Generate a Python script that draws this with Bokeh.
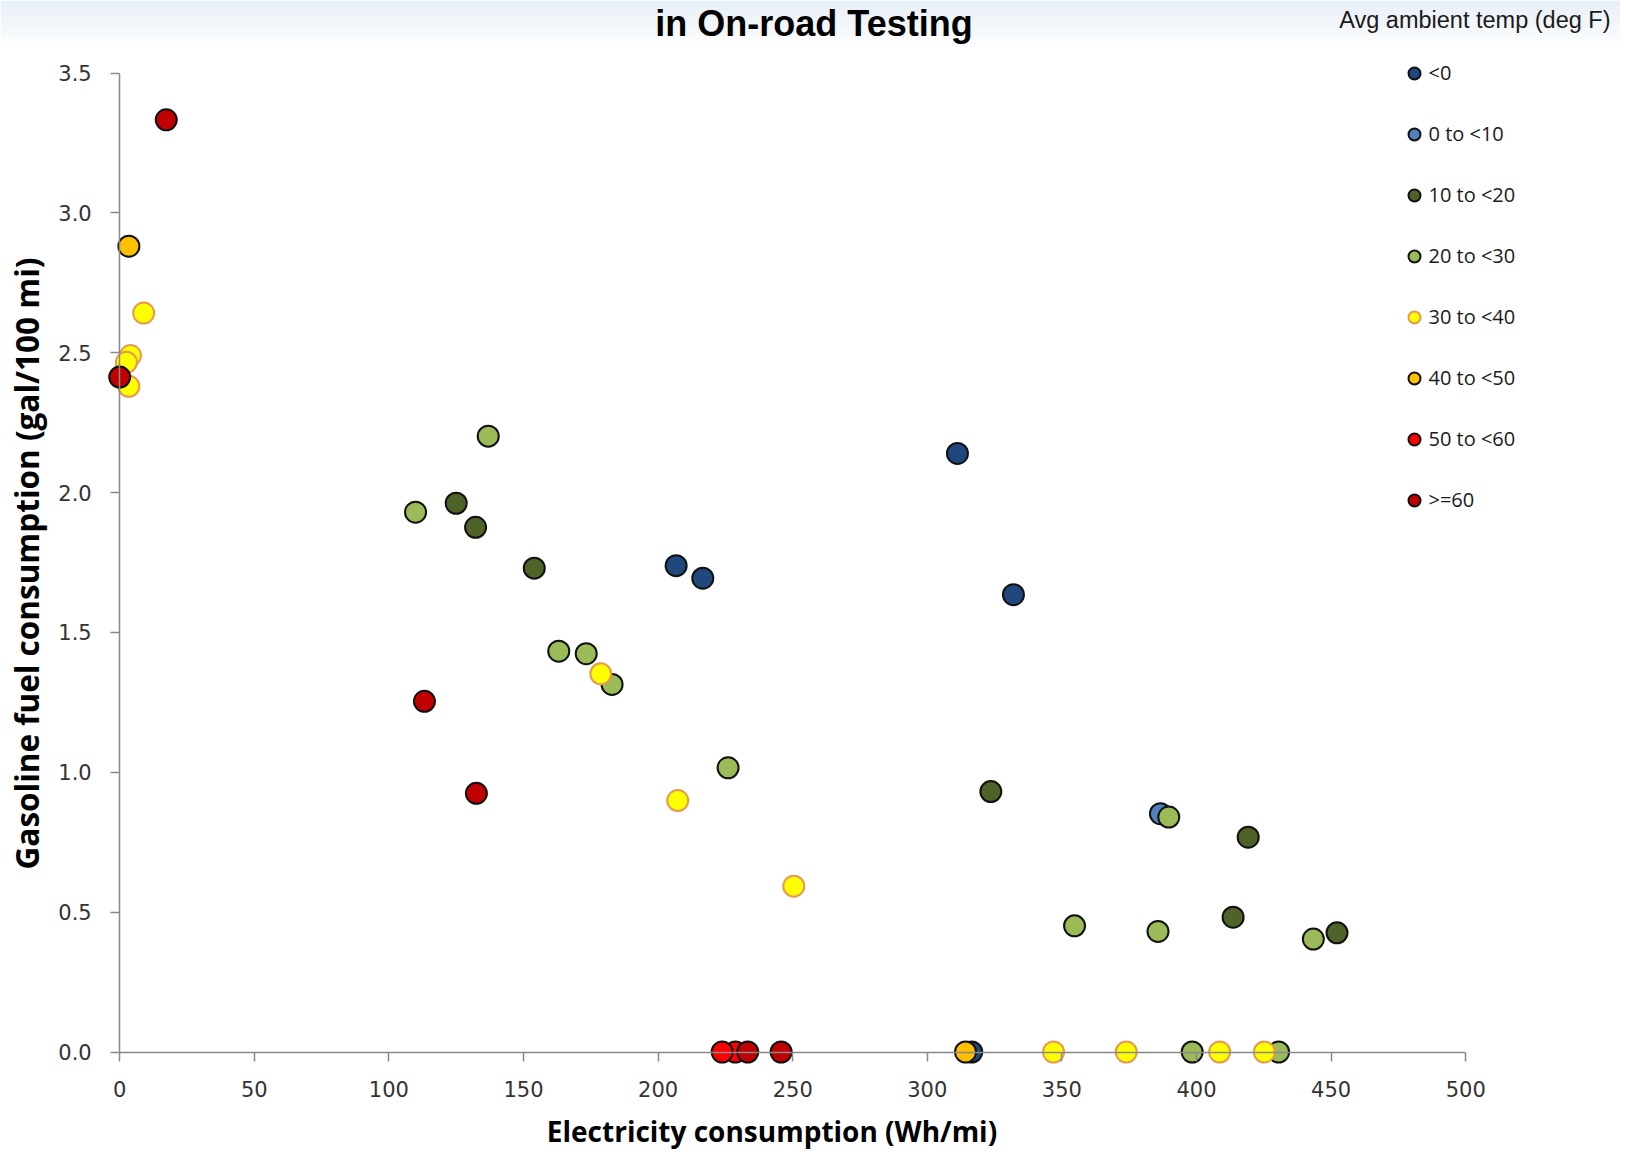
import numpy as np
from bokeh.plotting import figure
from bokeh.models import (Label, Legend, LegendItem, FixedTicker,
                          PrintfTickFormatter, BoxAnnotation)
from bokeh.embed import file_html
from bokeh.resources import INLINE

# ---------------- data ----------------
categories = ["<0", "0 to <10", "10 to <20", "20 to <30",
              "30 to <40", "40 to <50", "50 to <60", ">=60"]

x_lt0 = [311.2, 206.7, 216.6, 332.0, 316.5]
y_lt0 = [2.14, 1.739, 1.694, 1.635, 0.0]

x_0_10 = [386.6]
y_0_10 = [0.852]

x_10_20 = [125.0, 132.2, 154.0, 323.6, 419.2, 413.6, 452.2]
y_10_20 = [1.962, 1.876, 1.730, 0.931, 0.768, 0.482, 0.426]

x_20_30 = [109.9, 136.9, 163.1, 173.3, 182.9, 226.0, 389.7, 354.7, 385.7, 443.4, 398.4, 430.5]
y_20_30 = [1.930, 2.202, 1.433, 1.424, 1.314, 1.016, 0.840, 0.451, 0.431, 0.404, 0.0, 0.0]

x_30_40 = [8.9, 4.0, 2.5, 3.4, 178.7, 207.3, 250.4, 346.9, 373.9, 408.6, 425.2]
y_30_40 = [2.642, 2.490, 2.466, 2.380, 1.352, 0.899, 0.593, 0.0, 0.0, 0.0, 0.0]

x_40_50 = [3.4, 314.2]
y_40_50 = [2.881, 0.0]

x_50_60 = [228.7, 223.8]
y_50_60 = [0.0, 0.0]

x_ge60 = [17.3, 0.0, 113.2, 132.5, 233.3, 245.7]
y_ge60 = [3.333, 2.413, 1.254, 0.925, 0.0, 0.0]

series_x = [x_lt0, x_0_10, x_10_20, x_20_30, x_30_40, x_40_50, x_50_60, x_ge60]
series_y = [y_lt0, y_0_10, y_10_20, y_20_30, y_30_40, y_40_50, y_50_60, y_ge60]

fill_colors = ["#1F497D", "#4F81BD", "#4F6228", "#9BBB59",
               "#FFFF00", "#FFC000", "#FF0000", "#C00000"]
line_colors = ["#111111", "#111111", "#111111", "#111111",
               "#E59A4F", "#111111", "#111111", "#111111"]

x_ticks = list(range(0, 501, 50))
y_ticks = [0.0, 0.5, 1.0, 1.5, 2.0, 2.5, 3.0, 3.5]
X_MIN, X_MAX = 0, 500
Y_MIN, Y_MAX = 0.0, 3.5

# ---------------- layout (pixels) ----------------
W, H = 1620, 1150
AX_L, AX_R = 119.2, 1465.2     # pixel of x = 0 and x = 500
AX_B, AX_T = 1051.5, 72.6      # pixel of y = 0 and y = 3.5
kx = (AX_R - AX_L) / (X_MAX - X_MIN)
ky = (AX_B - AX_T) / (Y_MAX - Y_MIN)
x_range = (X_MIN - AX_L / kx, X_MAX + (W - AX_R) / kx)
y_range = (Y_MIN - (H - AX_B) / ky, Y_MAX + AX_T / ky)

p = figure(width=W, height=H, x_range=x_range, y_range=y_range,
           output_backend="svg", toolbar_location=None, title=None,
           min_border=0, min_border_left=0, min_border_right=0,
           min_border_top=0, min_border_bottom=0)
p.outline_line_color = None
p.grid.visible = False
p.background_fill_color = "white"
p.border_fill_color = "white"

# soft header band
for hpx in [5, 10, 16, 22, 28, 34, 40, 46]:
    p.add_layout(BoxAnnotation(bottom=y_range[1] - hpx / ky, fill_color="#c5d3e4",
                               fill_alpha=0.055, line_color=None, level="underlay"))

for ax in (p.xaxis[0], p.yaxis[0]):
    ax.fixed_location = 0
    ax.axis_line_color = "#898989"
    ax.axis_line_width = 1.5
    ax.major_tick_line_color = "#898989"
    ax.major_tick_line_width = 1.5
    ax.major_tick_out = 9
    ax.major_tick_in = 0
    ax.minor_tick_out = 0
    ax.minor_tick_in = 0
    ax.major_label_text_font = "DejaVu Sans"
    ax.major_label_text_font_size = "21px"
    ax.major_label_text_color = "#333333"

p.xaxis.bounds = (X_MIN, X_MAX)
p.yaxis.bounds = (Y_MIN, Y_MAX)
p.xaxis.ticker = FixedTicker(ticks=x_ticks)
p.yaxis.ticker = FixedTicker(ticks=y_ticks)
p.yaxis.formatter = PrintfTickFormatter(format="%.1f")
p.xaxis.major_label_standoff = 20
p.yaxis.major_label_standoff = 19

items = []
for cat, xs, ys, fc, lc in zip(categories, series_x, series_y, fill_colors, line_colors):
    r = p.scatter(xs, ys, size=21, fill_color=fc, line_color=lc, line_width=2)
    items.append(LegendItem(label=cat, renderers=[r]))

LEG_CX, LEG_TOP_CY = 1413.5, 72.6
legend_h = 8 * 30 + 7 * 31
legend = Legend(items=items,
                location=(LEG_CX - 15, H - (LEG_TOP_CY - 15) - legend_h),
                orientation="vertical", glyph_width=30, glyph_height=30,
                label_height=30, spacing=31, padding=0, margin=0,
                label_standoff=0, border_line_color=None,
                background_fill_alpha=0,
                label_text_font="Open Sans", label_text_font_size="20px",
                label_text_color="#1a1a1a")
p.add_layout(legend)

# ---------------- texts ----------------
def sy(v):
    return H - v

p.add_layout(Label(x=813.5, y=sy(22.5), x_units="screen", y_units="screen",
                   text="in On-road Testing", text_font="Liberation Sans",
                   text_font_style="bold", text_font_size="36px",
                   text_align="center", text_baseline="alphabetic",
                   text_color="#000000"))

p.add_layout(Label(x=1610, y=sy(19), x_units="screen", y_units="screen",
                   text="Avg ambient temp (deg F)", text_font="Liberation Sans",
                   text_font_size="23.5px", text_align="right",
                   text_baseline="middle", text_color="#1a1a1a"))

p.add_layout(Label(x=771.5, y=sy(1130), x_units="screen", y_units="screen",
                   text="Electricity consumption (Wh/mi)", text_font="Open Sans",
                   text_font_style="bold", text_font_size="28px",
                   text_align="center", text_baseline="middle",
                   text_color="#000000"))

p.add_layout(Label(x=26, y=sy(563), x_units="screen", y_units="screen",
                   angle=np.pi / 2,
                   text="Gasoline fuel consumption (gal/100 mi)", text_font="Open Sans",
                   text_font_style="bold", text_font_size="31.5px",
                   text_align="center", text_baseline="middle",
                   text_color="#000000"))

open("out.html", "w").write(file_html(p, INLINE))
